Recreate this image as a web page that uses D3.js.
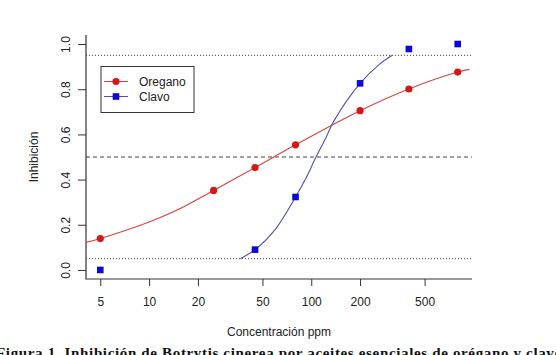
<!DOCTYPE html>
<html>
<head>
<meta charset="utf-8">
<script src="https://cdn.jsdelivr.net/npm/d3@7"></script>
<style>
  body { margin: 0; background: #fff; }
  svg { display: block; }
  text { font-family: "Liberation Sans", Arial, sans-serif; fill: #222; }
</style>
</head>
<body>
<div id="chart"></div>
<script>
// concentrations (ppm) and inhibition
var oreganoConc = [5, 25, 45, 80, 200, 400, 800];
var oreganoInh = [0.139, 0.352, 0.453, 0.554, 0.705, 0.801, 0.876];
var clavoConc = [5, 45, 80, 200, 400, 800];
var clavoInh = [0.0, 0.09, 0.323, 0.826, 0.978, 1.0];

// fitted curves
var oreganoFitConc = [4.07, 5, 10, 15, 25, 45, 80, 200, 400, 800, 944];
var oreganoFitInh = [0.122, 0.139, 0.212, 0.266, 0.352, 0.453, 0.554, 0.705, 0.801, 0.876, 0.888];
var clavoFitConc = [36.5, 45, 60, 80, 93, 107, 124, 138, 200, 263, 316];
var clavoFitInh = [0.05, 0.09, 0.18, 0.323, 0.408, 0.5, 0.59, 0.66, 0.826, 0.91, 0.95];

var xTicks = [5, 10, 20, 50, 100, 200, 500];
var yTicks = [0, 0.2, 0.4, 0.6, 0.8, 1.0];
var refLines = [0.05, 0.5, 0.95];
var seriesNames = ["Oregano", "Clavo"];

var W = 556, H = 355;
var plot = { left: 86, right: 472, top: 35, bottom: 279 };

var svg = d3.select('#chart').append('svg')
    .attr('width', W)
    .attr('height', H);

// R style 4% padding, log x
var lx = [Math.log10(5), Math.log10(800)];
var pad = (lx[1] - lx[0]) * 0.04;
var xScale = d3.scaleLog()
    .domain([Math.pow(10, lx[0] - pad), Math.pow(10, lx[1] + pad)])
    .range([plot.left, plot.right]);
var yScale = d3.scaleLinear()
    .domain([-0.04, 1.04])
    .range([plot.bottom, plot.top]);

// reference lines
svg.selectAll('line.ref')
    .data(refLines)
    .enter()
    .append('line')
    .attr('class', 'ref')
    .attr('x1', plot.left).attr('x2', plot.right)
    .attr('y1', d => yScale(d)).attr('y2', d => yScale(d))
    .attr('stroke', '#444')
    .attr('stroke-width', 1)
    .attr('stroke-dasharray', d => d === 0.5 ? '4,3' : '1,2');

// axes
var xAxis = d3.axisBottom(xScale)
    .tickValues(xTicks)
    .tickFormat(d3.format('d'))
    .tickSizeInner(7)
    .tickSizeOuter(0)
    .tickPadding(11);
var xAxisGroup = svg.append('g')
    .attr('transform', 'translate(0,' + plot.bottom + ')')
    .call(xAxis);
xAxisGroup.select('.domain').remove();
xAxisGroup.selectAll('line').attr('stroke', '#333');
xAxisGroup.selectAll('text').attr('font-size', 12).attr('fill', '#222')
    .style('font-family', '"Liberation Sans", Arial, sans-serif');

var yAxis = d3.axisLeft(yScale)
    .tickValues(yTicks)
    .tickFormat(d3.format('.1f'))
    .tickSizeInner(8)
    .tickSizeOuter(0)
    .tickPadding(4);
var yAxisGroup = svg.append('g')
    .attr('transform', 'translate(' + plot.left + ',0)')
    .call(yAxis);
yAxisGroup.select('.domain').remove();
yAxisGroup.selectAll('line').attr('stroke', '#333');
yAxisGroup.selectAll('text')
    .attr('font-size', 12).attr('fill', '#222')
    .style('font-family', '"Liberation Sans", Arial, sans-serif')
    .attr('text-anchor', 'middle')
    .attr('x', null)
    .attr('transform', 'translate(-20,0) rotate(-90)')
    .attr('dy', '0.35em');

// L-shaped box
svg.append('path')
    .attr('d', 'M' + plot.left + ',' + plot.top + 'V' + plot.bottom + 'H' + plot.right)
    .attr('fill', 'none')
    .attr('stroke', '#333')
    .attr('stroke-width', 1.2);

// fitted curves
var line = d3.line()
    .x(d => xScale(d[0]))
    .y(d => yScale(d[1]))
    .curve(d3.curveCatmullRom.alpha(0.5));

svg.append('path')
    .datum(d3.zip(oreganoFitConc, oreganoFitInh))
    .attr('d', line)
    .attr('fill', 'none')
    .attr('stroke', '#d94040')
    .attr('stroke-width', 1.1);

svg.append('path')
    .datum(d3.zip(clavoFitConc, clavoFitInh))
    .attr('d', line)
    .attr('fill', 'none')
    .attr('stroke', '#5050b0')
    .attr('stroke-width', 1.1);

// points
svg.selectAll('circle.ore')
    .data(d3.zip(oreganoConc, oreganoInh))
    .enter()
    .append('circle')
    .attr('class', 'ore')
    .attr('cx', d => xScale(d[0]))
    .attr('cy', d => yScale(d[1]))
    .attr('r', 3.6)
    .attr('fill', '#d41818');

svg.selectAll('rect.cla')
    .data(d3.zip(clavoConc, clavoInh))
    .enter()
    .append('rect')
    .attr('class', 'cla')
    .attr('x', d => xScale(d[0]) - 3.3)
    .attr('y', d => yScale(d[1]) - 3.3)
    .attr('width', 6.6)
    .attr('height', 6.6)
    .attr('fill', '#0a0ad0');

// legend
var legend = svg.append('g').attr('transform', 'translate(101,66.5)');
legend.append('rect')
    .attr('width', 93).attr('height', 46)
    .attr('fill', '#fff')
    .attr('stroke', '#333');
var legendColors = ['#d94040', '#5050b0'];
var legendMarks = ['#d41818', '#0a0ad0'];
seriesNames.forEach(function(name, i) {
    var ly = 15 + i * 15;
    legend.append('line')
        .attr('x1', 3).attr('x2', 27)
        .attr('y1', ly).attr('y2', ly)
        .attr('stroke', legendColors[i]);
    if (i === 0) {
        legend.append('circle').attr('cx', 15).attr('cy', ly).attr('r', 3.6).attr('fill', legendMarks[i]);
    } else {
        legend.append('rect').attr('x', 11.7).attr('y', ly - 3.3).attr('width', 6.6).attr('height', 6.6).attr('fill', legendMarks[i]);
    }
    legend.append('text')
        .attr('x', 38).attr('y', ly)
        .attr('dy', '0.35em')
        .attr('font-size', 12)
        .text(name);
});

// axis titles
svg.append('text')
    .attr('x', (plot.left + plot.right) / 2)
    .attr('y', 336)
    .attr('text-anchor', 'middle')
    .attr('font-size', 12)
    .text('Concentración ppm');

svg.append('text')
    .attr('transform', 'translate(38,' + (plot.top + plot.bottom) / 2 + ') rotate(-90)')
    .attr('text-anchor', 'middle')
    .attr('font-size', 12)
    .text('Inhibición');

// figure caption, cut by the bottom edge as in the source image
svg.append('text')
    .attr('x', -4)
    .attr('y', 358)
    .attr('font-size', 15)
    .attr('font-weight', 'bold')
    .attr('textLength', 566)
    .attr('lengthAdjust', 'spacing')
    .style('font-family', '"Liberation Serif", "Times New Roman", serif')
    .style('fill', '#111')
    .text('Figura 1. Inhibición de Botrytis cinerea por aceites esenciales de orégano y clavo');
</script>
</body>
</html>
